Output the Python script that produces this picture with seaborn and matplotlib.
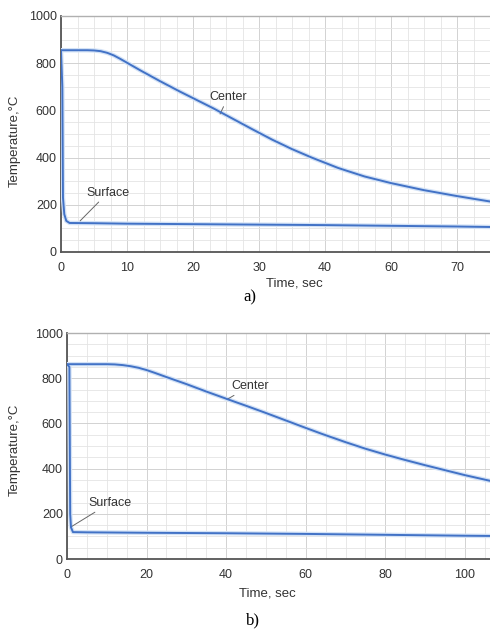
import numpy as np
import pandas as pd
import matplotlib
matplotlib.use("Agg")
import matplotlib.pyplot as plt
from matplotlib.ticker import MultipleLocator, FixedLocator, FixedFormatter
import seaborn as sns

# ---- data: panel a ----
a_center_t = [0, 4, 5, 6, 7, 8, 9, 10, 11, 12, 13.5, 15, 16.5, 18, 20, 23, 26, 29, 32, 35, 38, 42, 46, 50, 55, 60, 65]
a_center_T = [855, 855, 854, 851, 844, 833, 818, 802, 786, 770, 747, 724, 702, 680, 652, 610, 565, 520, 476, 436, 400, 356, 320, 292, 262, 237, 214]
a_surface_t = [0, 0.2, 0.3, 0.5, 0.8, 1.3, 5, 10, 20, 30, 40, 50, 60, 65]
a_surface_T = [855, 700, 230, 160, 132, 123, 122, 120, 118, 116, 114, 111, 108, 106]
a_xticks = [0, 10, 20, 30, 40, 50, 60]
a_xticklabels = ["0", "10", "20", "30", "40", "60", "70"]

# ---- data: panel b ----
b_center_t = [0, 10, 12, 14, 16, 18, 20, 22, 25, 30, 35, 41, 45, 50, 55, 60, 64, 70, 75, 80, 85, 90, 95, 100, 106.3]
b_center_T = [862, 862, 861, 858, 853, 846, 836, 824, 805, 774, 741, 703, 678, 646, 613, 580, 554, 517, 488, 462, 438, 415, 393, 371, 346]
b_surface_t = [0, 0.6, 0.8, 1.0, 1.5, 5, 20, 40, 60, 80, 100, 106.3]
b_surface_T = [862, 850, 200, 140, 119, 118, 116, 114, 111, 107, 103, 102]
b_xticks = [0, 20, 40, 60, 80, 100]
b_xticklabels = ["0", "20", "40", "60", "80", "100"]

yticks = [0, 200, 400, 600, 800, 1000]
ytick_labels = ["0", "200", "400", "600", "800", "1000"]

sns.set_theme(style="white")
plt.rcParams["font.family"] = ["Liberation Sans", "DejaVu Sans"]

W, H = 490, 631
fig = plt.figure(figsize=(W / 100, H / 100), dpi=100)

def px_axes(l, t, r, b):
    return fig.add_axes([l / W, 1 - b / H, (r - l) / W, (b - t) / H])

ax1 = px_axes(61, 16, 490, 252)
ax2 = px_axes(67, 333, 490, 559)

LINE = "#4272c6"
HALO = "#d3e2f6"

def draw(ax, ct, cT, st, sT, xmax, xt, xtl, xminor):
    dfc = pd.DataFrame({"t": ct, "T": cT})
    dfs = pd.DataFrame({"t": st, "T": sT})
    for df in (dfc, dfs):
        sns.lineplot(data=df, x="t", y="T", ax=ax, color=HALO, lw=3.2,
                     sort=False, estimator=None, zorder=3)
        sns.lineplot(data=df, x="t", y="T", ax=ax, color=LINE, lw=1.4,
                     sort=False, estimator=None, zorder=4)
    ax.set_xlim(0, xmax)
    ax.set_ylim(0, 1000)
    ax.xaxis.set_major_locator(FixedLocator(xt))
    ax.xaxis.set_major_formatter(FixedFormatter(xtl))
    ax.xaxis.set_minor_locator(MultipleLocator(xminor))
    ax.yaxis.set_major_locator(FixedLocator(yticks))
    ax.yaxis.set_major_formatter(FixedFormatter(ytick_labels))
    ax.yaxis.set_minor_locator(MultipleLocator(50))
    ax.grid(which="major", color="#d2d2d2", lw=0.7)
    ax.grid(which="minor", color="#e4e4e4", lw=0.6)
    ax.set_axisbelow(True)
    ax.tick_params(axis="both", which="both", length=0, labelsize=9, labelcolor="#333333")
    ax.tick_params(axis="x", pad=7)
    ax.tick_params(axis="y", pad=3)
    for s in ("left", "bottom"):
        ax.spines[s].set_color("#555555")
        ax.spines[s].set_linewidth(1.3)
    ax.spines["top"].set_color("#b0b0b0")
    ax.spines["top"].set_linewidth(1.0)
    ax.spines["right"].set_visible(False)
    ax.set_xlabel("Time, sec", fontsize=9.5, color="#333333")
    ax.set_ylabel("Temperature,°C", fontsize=9.5, color="#333333")
    ax.xaxis.label.set_va("center")
    ax.yaxis.label.set_va("center")

draw(ax1, a_center_t, a_center_T, a_surface_t, a_surface_T, 65, a_xticks, a_xticklabels, 2.5)
draw(ax2, b_center_t, b_center_T, b_surface_t, b_surface_T, 106.3, b_xticks, b_xticklabels, 5)

ax1.xaxis.set_label_coords((294 - 61) / 429, (252 - 283) / 236)
ax1.yaxis.set_label_coords((15 - 61) / 429, (252 - 141) / 236)
ax2.xaxis.set_label_coords((267 - 67) / 423, (559 - 593) / 226)
ax2.yaxis.set_label_coords((15 - 67) / 423, (559 - 450) / 226)

ann = dict(fontsize=9, color="#333333", ha="center", va="center",
           arrowprops=dict(arrowstyle="-", color="#666666", lw=0.7, shrinkA=0, shrinkB=0))
ax1.annotate("Center", xy=(24.1, 585), xytext=(25.3, 655), **ann)
ax1.annotate("Surface", xy=(2.9, 132), xytext=(7.1, 251), **ann)
ax2.annotate("Center", xy=(40.2, 706), xytext=(46.0, 765), **ann)
ax2.annotate("Surface", xy=(1.0, 142), xytext=(10.8, 248), **ann)

fig.text(250 / W, 1 - 297 / H, "a)", fontsize=12, family=["Liberation Serif", "DejaVu Serif"],
         ha="center", va="center", color="black")
fig.text(253 / W, 1 - 620 / H, "b)", fontsize=12, family=["Liberation Serif", "DejaVu Serif"],
         ha="center", va="center", color="black")

fig.savefig("out.png", dpi=100)
